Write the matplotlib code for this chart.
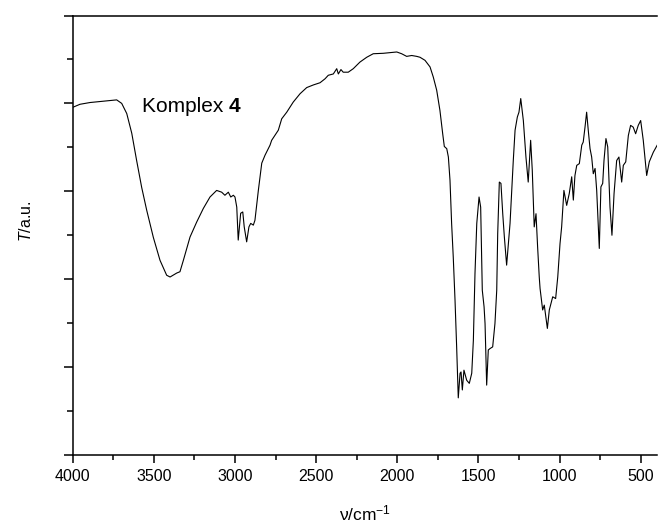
import matplotlib
matplotlib.use("Agg")
import matplotlib.pyplot as plt
from matplotlib.ticker import MultipleLocator, NullFormatter

plt.rcParams['font.family'] = ['Liberation Sans', 'DejaVu Sans']
plt.rcParams['mathtext.fontset'] = 'custom'
plt.rcParams['mathtext.rm'] = 'Liberation Sans'
plt.rcParams['mathtext.it'] = 'Liberation Sans:italic'

wavenumber = [4000, 3955, 3893, 3811, 3729, 3698, 3667, 3636, 3606, 3575, 3544, 3503,
              3462, 3421, 3400, 3359, 3339, 3318, 3277, 3236, 3195, 3154, 3113, 3082,
              3062, 3041, 3026, 3010, 3000, 2989, 2980, 2965, 2952, 2943, 2928, 2914,
              2903, 2887, 2877, 2856, 2835, 2815, 2784, 2774, 2733, 2712, 2681, 2641,
              2599, 2558, 2517, 2476, 2445, 2425, 2394, 2373, 2363, 2347, 2333, 2302,
              2271, 2230, 2188, 2148, 2086, 2003, 1973, 1942, 1911, 1880, 1860, 1829,
              1798, 1778, 1757, 1737, 1720, 1710, 1695, 1685, 1675, 1665, 1655, 1644,
              1634, 1624, 1613, 1607, 1599, 1589, 1572, 1556, 1541, 1531, 1521, 1510,
              1496, 1486, 1476, 1465, 1459, 1449, 1439, 1429, 1412, 1398, 1387, 1381,
              1371, 1361, 1350, 1340, 1326, 1305, 1285, 1274, 1260, 1250, 1239, 1223,
              1207, 1193, 1178, 1168, 1156, 1145, 1135, 1125, 1120, 1104, 1094, 1075,
              1063, 1042, 1024, 1011, 997, 987, 973, 956, 940, 925, 915, 905,
              894, 878, 863, 854, 843, 833, 823, 812, 802, 792, 781, 771,
              755, 745, 734, 726, 714, 703, 689, 677, 664, 648, 634, 617,
              607, 592, 576, 562, 546, 531, 515, 500, 484, 463, 447, 422, 398]

transmittance = [7.91, 7.98, 8.02, 8.05, 8.08, 8.00, 7.77, 7.32, 6.70, 6.09, 5.57, 4.95,
                 4.43, 4.09, 4.05, 4.14, 4.17, 4.43, 4.96, 5.30, 5.61, 5.87, 6.02, 5.98,
                 5.91, 5.98, 5.87, 5.91, 5.87, 5.64, 4.89, 5.50, 5.53, 5.19, 4.85, 5.19,
                 5.27, 5.23, 5.34, 6.02, 6.64, 6.82, 7.05, 7.16, 7.39, 7.65, 7.80, 8.03,
                 8.22, 8.36, 8.42, 8.47, 8.56, 8.64, 8.67, 8.79, 8.67, 8.77, 8.71, 8.71,
                 8.79, 8.94, 9.05, 9.13, 9.14, 9.17, 9.13, 9.07, 9.09, 9.07, 9.05, 8.98,
                 8.83, 8.60, 8.30, 7.84, 7.31, 7.02, 6.97, 6.78, 6.25, 5.27, 4.51, 3.52,
                 2.46, 1.30, 1.86, 1.89, 1.48, 1.93, 1.70, 1.63, 1.86, 2.61, 4.13, 5.27,
                 5.87, 5.64, 3.75, 3.37, 2.99, 1.59, 2.39, 2.42, 2.46, 2.99, 3.75, 5.04,
                 6.21, 6.18, 5.49, 4.96, 4.32, 5.27, 6.70, 7.39, 7.69, 7.80, 8.11, 7.61,
                 6.78, 6.21, 7.16, 6.48, 5.19, 5.49, 4.73, 4.05, 3.79, 3.30, 3.41, 2.88,
                 3.30, 3.60, 3.56, 4.05, 4.81, 5.19, 6.02, 5.68, 5.95, 6.33, 5.80, 6.36,
                 6.59, 6.63, 7.05, 7.12, 7.46, 7.80, 7.39, 6.97, 6.78, 6.40, 6.52, 6.02,
                 4.70, 6.10, 6.18, 6.70, 7.20, 7.01, 5.64, 5.00, 5.95, 6.70, 6.78, 6.21,
                 6.59, 6.67, 7.27, 7.50, 7.46, 7.31, 7.50, 7.61, 7.16, 6.36, 6.67, 6.89, 7.05]

x_ticks = [4000, 3500, 3000, 2500, 2000, 1500, 1000, 500]
annotation = "Komplex "
annotation_bold = "4"

fig = plt.figure(figsize=(6.58, 5.24), dpi=100)
ax = fig.add_axes([72.7 / 658, 69 / 524, (656.9 - 72.7) / 658, (455 - 15.5) / 524])

ax.plot(wavenumber, transmittance, color='black', linewidth=0.8)

ax.set_xlim(4000, 400)
ax.set_ylim(0, 10)
ax.set_xticks(x_ticks)
ax.set_xticklabels([str(t) for t in x_ticks])
ax.xaxis.set_minor_locator(MultipleLocator(250))
ax.yaxis.set_major_locator(MultipleLocator(2))
ax.yaxis.set_minor_locator(MultipleLocator(1))
ax.yaxis.set_major_formatter(NullFormatter())

ax.spines['right'].set_visible(False)
for s in ['left', 'bottom', 'top']:
    ax.spines[s].set_linewidth(1.1)

ax.tick_params(axis='x', which='major', direction='out', length=6, width=1.1,
               labelsize=11.5, pad=4, top=False)
ax.tick_params(axis='x', which='minor', direction='out', length=3.8, width=1.1, top=False)
ax.tick_params(axis='y', which='major', direction='out', length=6.3, width=1.1, right=False)
ax.tick_params(axis='y', which='minor', direction='out', length=4.2, width=1.1, right=False)

ax.set_xlabel('ν/cm$^{\\mathrm{-1}}$', fontsize=12.5)
ax.xaxis.set_label_coords(0.5, -0.11)
ax.set_ylabel(r'$T$/a.u.', fontsize=11.5)
ax.yaxis.set_label_coords(-0.066, 0.531)

t = ax.text(3575, 7.8, annotation, fontsize=15, ha='left', va='baseline')
fig.canvas.draw()
bb = t.get_window_extent()
inv = ax.transData.inverted()
x_end = inv.transform((bb.x1, bb.y0))[0]
ax.text(x_end, 7.8, annotation_bold, fontsize=15, fontweight='bold', ha='left', va='baseline')

fig.savefig('out.png', dpi=100)
